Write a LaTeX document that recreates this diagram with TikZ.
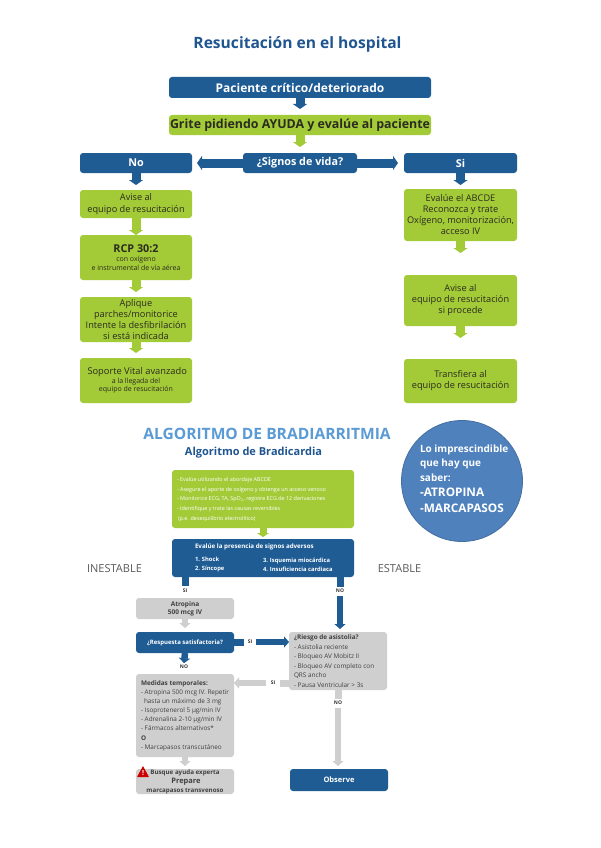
\documentclass[tikz,border=0pt]{standalone}
\usepackage{fontspec}
\setmainfont{Open Sans}
\usetikzlibrary{arrows.meta,calc}
\definecolor{cblue}{HTML}{1F5C94}
\definecolor{cgreen}{HTML}{A3CB38}
\definecolor{cgrey}{HTML}{CFCFCF}
\definecolor{ctitle}{HTML}{1F5590}
\definecolor{clight}{HTML}{5A9BD5}
\definecolor{ccirc}{HTML}{4F81BD}
\definecolor{cdark}{HTML}{2B2B20}
\newcommand\fs[2]{\fontsize{#1}{#2}\selectfont}
\newcommand\bx[7]{\pgfmathsetmacro\bw{#5-#3}\pgfmathsetmacro\bh{#6-#4}%
  \node[#1,anchor=north west,minimum width=\bw pt,minimum height=\bh pt] (#2) at (#3,#4) {#7};}
\tikzset{
  base/.style={rounded corners=3pt,inner sep=0pt,outer sep=0pt,align=center},
  bluebox/.style={base,fill=cblue,text=white},
  greenbox/.style={base,fill=cgreen,text=cdark},
  greybox/.style={base,fill=cgrey,text=black!75},
  arr/.style={line width=#1,-{Triangle[width=14pt,length=5pt]}},
  arr/.default=9pt,
  garrow/.style={arr,draw=cgreen},
  barrow/.style={arr,draw=cblue},
  smallb/.style={line width=6.5pt,draw=cblue,-{Triangle[width=11pt,length=5pt]}},
  smallg/.style={line width=6.5pt,draw=cgrey,-{Triangle[width=11pt,length=5pt]}},
  stubb/.style={line width=7pt,draw=cblue},
  stubg/.style={line width=7pt,draw=cgrey},
  lab/.style={inner sep=0pt,outer sep=0pt,font=\bfseries\fs{5}{6},text=black!80},
  txt/.style={inner sep=0pt,outer sep=0pt,anchor=west,align=left},
}
\begin{document}
\begin{tikzpicture}[x=1pt,y=-1pt]
\useasboundingbox (0,0) rectangle (600,848);
\fill[white] (0,0) rectangle (600,848);
% title
\node[txt,anchor=center,text=ctitle,font=\bfseries\fs{15.6}{18}] (title) at (297.5,44) {Resucitación en el hospital};
% top flow
\bx{bluebox,font=\bfseries\fs{12}{14}}{pac}{169}{77}{431}{98}{Paciente crítico/deteriorado}
\bx{greenbox,font=\bfseries\fs{12.4}{14}}{grite}{169}{115}{431}{135}{Grite pidiendo AYUDA y evalúe al paciente}
\bx{bluebox,font=\bfseries\fs{10.8}{12}}{signos}{243}{153}{357}{173}{¿Signos de vida?}
\bx{bluebox,font=\bfseries\fs{10.8}{12}}{no}{80}{153}{192}{173}{No}
\bx{bluebox,font=\bfseries\fs{10.8}{12}}{si}{404}{153}{517}{173}{Si}
\draw[barrow] (pac.south) -- ([yshift=6pt]grite.north);
\draw[garrow] (grite.south) -- ([yshift=6pt]signos.north);
\draw[barrow] (signos.west) -- ([xshift=5pt]no.east);
\draw[barrow] (signos.east) -- ([xshift=-6pt]si.west);
% left column
\bx{greenbox,font=\fs{9.2}{11.5}}{avise}{80}{190}{192}{218}{Avise al\\equipo de resucitación}
\bx{greenbox,font=\fs{7}{9}}{rcp}{80}{235}{192}{280}{{\bfseries\fs{10.8}{9}\selectfont RCP 30:2}\\con oxígeno\\e instrumental de vía aérea}
\bx{greenbox,font=\fs{9.2}{11}}{aplique}{80}{297}{192}{342}{Aplique\\parches/monitorice\\Intente la desfibrilación\\si está indicada}
\bx{greenbox,font=\fs{7}{8.7}}{soporte}{80}{358}{192}{403}{{\fs{9.3}{9} Soporte Vital avanzado}\\a la llegada del\\equipo de resucitación}
\draw[barrow] (no.south) -- ([yshift=5pt]avise.north);
\draw[garrow] (avise.south) -- (rcp.north);
\draw[garrow] (rcp.south) -- ([yshift=5pt]aplique.north);
\draw[garrow] (aplique.south) -- ([yshift=5pt]soporte.north);
% right column
\bx{greenbox,font=\fs{9.2}{11}}{abcde}{404}{189}{517}{241}{Evalúe el ABCDE\\Reconozca y trate\\Oxígeno, monitorización,\\acceso IV}
\bx{greenbox,font=\fs{9.2}{11}}{avisb}{404}{275}{517}{326}{Avise al\\equipo de resucitación\\si procede}
\bx{greenbox,font=\fs{9.2}{11}}{transf}{404}{359}{517}{403}{Transfiera al\\equipo de resucitación}
\draw[barrow] (si.south) -- ([yshift=4pt]abcde.north);
\draw[garrow] (abcde.south) -- ([yshift=22pt]avisb.north);
\draw[garrow] (avisb.south) -- ([yshift=21pt]transf.north);
% second part titles
\node[txt,anchor=center,text=clight,font=\bfseries\fs{15.6}{18}] (algo) at (267,434) {ALGORITMO DE BRADIARRITMIA};
\node[txt,anchor=center,text=ctitle,font=\bfseries\fs{11}{13}] (algb) at (253.5,453) {Algoritmo de Bradicardia};
% circle
\node[circle,draw=ccirc!85!black,line width=0.8pt,fill=ccirc,minimum size=121pt,inner sep=0pt] (circ) at (462,481) {};
\node[txt,text=white,font=\bfseries\fs{10}{14.5}] (circt1) at (420,463) {Lo imprescindible\\que hay que\\saber:};
\node[txt,text=white,font=\bfseries\fs{11.8}{16}] (circt2) at (420,500) {-ATROPINA\\-MARCAPASOS};
\node[txt,anchor=center,text=black!65,font=\fs{11}{13}] (ines) at (114.5,569) {INESTABLE};
\node[txt,anchor=center,text=black!65,font=\fs{11}{13}] (esta) at (399.5,569) {ESTABLE};
% bradi boxes
\bx{base,fill=cgreen}{evb}{172}{470}{354}{528}{}
\node[txt,text=white,font=\fs{5.4}{9.7}] (evbt) at (177,499.5) {- Evalúe utilizando el abordaje ABCDE\\- Asegure el aporte de oxígeno y obtenga un acceso venoso\\- Monitorice ECG, TA, SpO\textsubscript{2}, registre ECG de 12 derivaciones\\- Identifique y trate las causas reversibles\\\hspace*{1pt}(p.e. desequilibrio electrolítico)};
\bx{bluebox}{adv}{172}{539}{354}{577}{}
\node[txt,text=white,font=\bfseries\fs{6.2}{7}] (advt) at (195,547) {Evalúe la presencia de signos adversos};
\node[txt,text=white,font=\bfseries\fs{5.8}{8.7}] (advl) at (195,564.5) {1. Shock\\2. Síncope};
\node[txt,text=white,font=\bfseries\fs{5.8}{8.7}] (advr) at (263,564.5) {3. Isquemia miocárdica\\4. Insuficiencia cardiaca};
\draw[line width=7pt,draw=cgreen,-{Triangle[width=12pt,length=4pt]}] (evb.south) -- ([yshift=2pt]adv.north);
\node[lab] (si1) at (185,591) {SI};
\node[lab] (no1) at (340,591) {NO};
\draw[stubb] (adv.south -| si1) -- ([yshift=3pt]si1.north);
\draw[stubb] (adv.south -| no1) -- ([yshift=2pt]no1.north);
\bx{greybox,font=\bfseries\fs{6.5}{8}}{atro}{136}{598}{234}{619}{Atropina\\500 mcg IV}
\bx{bluebox,font=\bfseries\fs{6}{7}}{resp}{136}{632}{234}{653}{¿Respuesta satisfactoria?}
\bx{greybox}{riesgo}{289}{632}{387}{690}{}
\node[txt,text=black!75,font=\fs{6.4}{9.45}] (riesgot) at (294,661) {{\bfseries ¿Riesgo de asistolia?}\\- Asistolia reciente\\- Bloqueo AV Mobitz II\\- Bloqueo AV completo con\\QRS ancho\\- Pausa Ventricular > 3s};
\bx{greybox}{med}{136}{674}{234}{757}{}
\node[txt,text=black!75,font=\fs{6.4}{9.15}] (medt) at (141,715.5) {{\bfseries Medidas temporales:}\\- Atropina 500 mcg IV. Repetir\\\hspace*{3pt}hasta un máximo de 3 mg\\- Isoprotenerol 5 µg/min IV\\- Adrenalina 2-10 µg/min IV\\- Fármacos alternativos*\\{\bfseries O}\\- Marcapasos transcutáneo};
\bx{greybox,font=\bfseries\fs{6.2}{9}}{busq}{136}{769}{234}{794}{Busque ayuda experta\\{\fs{7.5}{9} Prepare}\\marcapasos transvenoso}
\bx{bluebox,font=\bfseries\fs{7.5}{8}}{obs}{290}{769}{388}{791}{Observe}
% warning sign
\coordinate (warn) at (143,772);
\fill[red!80!black,rounded corners=0.5pt] ($(warn)+(-6,5)$) -- ($(warn)+(6,5)$) -- ($(warn)+(0,-6)$) -- cycle;
\node[inner sep=0pt,text=white,font=\bfseries\fs{7}{8}] (warnx) at ($(warn)+(0,1)$) {!};
% bradi connectors
\node[lab] (no2) at (184,667) {NO};
\node[lab] (si2) at (250,642) {SI};
\node[lab] (si3) at (273,683) {SI};
\node[lab] (no3) at (338,703) {NO};
\draw[smallg] (atro.south) -- ([yshift=4pt]resp.north);
\draw[smallb] (resp.south) -- ([yshift=2pt]no2.north);
\draw[stubb] (resp.east |- si2) -- ([xshift=-4pt]si2.west);
\draw[smallb] ([xshift=4pt]si2.east) -- (riesgo.west |- si2);
\draw[smallb] ([yshift=-3pt]no1.south) -- ([yshift=3pt]riesgo.north -| no1);
\draw[stubg] (riesgo.west |- si3) -- ([xshift=5pt]si3.east);
\draw[smallg] ([xshift=-5pt]si3.west) -- (med.east |- si3);
\draw[stubg] (riesgo.south -| no3) -- ([yshift=2pt]no3.north);
\draw[smallg] ([yshift=-3pt]no3.south) -- ([yshift=3pt]obs.north -| no3);
\draw[smallg] (med.south) -- ([yshift=3pt]busq.north);
\end{tikzpicture}
\end{document}
